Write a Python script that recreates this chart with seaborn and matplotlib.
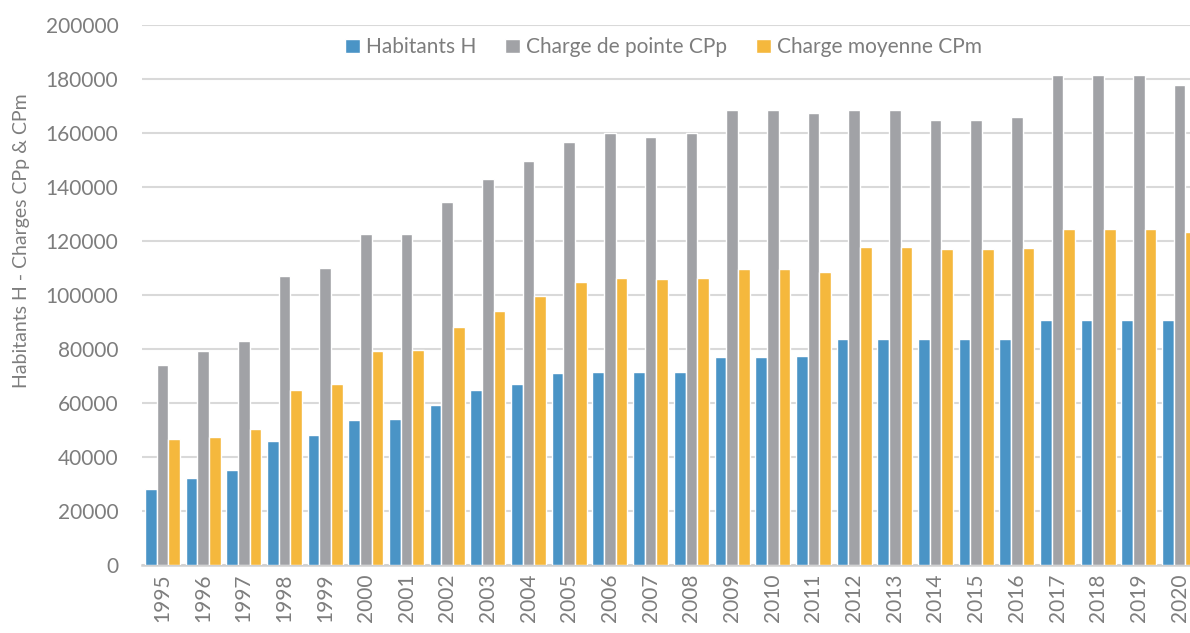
import numpy as np
import pandas as pd
import matplotlib
matplotlib.use('Agg')
import matplotlib.pyplot as plt
import seaborn as sns

years = [str(y) for y in range(1995, 2021)]
habitants = [28000, 32300, 35100, 45800, 48200, 53750, 54100, 59400, 64700, 67050,
             71100, 71500, 71500, 71500, 77150, 77150, 77500, 83700, 83700, 83700,
             83700, 83700, 90600, 90600, 90600, 90600]
charge_pointe = [74200, 79250, 82800, 107100, 110000, 122500, 122600, 134450, 142850, 149600,
                 156650, 160100, 158600, 160100, 168350, 168350, 167250, 168700, 168600, 164800,
                 165000, 166100, 181400, 181400, 181400, 177700]
charge_moyenne = [46600, 47300, 50200, 65000, 67000, 79100, 79500, 88000, 94150, 99700,
                  105000, 106250, 105750, 106250, 109800, 109800, 108500, 117700, 117600, 117000,
                  117100, 117300, 124600, 124600, 124600, 123500]
series_names = ['Habitants H', 'Charge de pointe CPp', 'Charge moyenne CPm']
colors = ['#4a94c6', '#a1a2a6', '#f5b83d']

df = pd.DataFrame({'annee': years * 3,
                   'valeur': habitants + charge_pointe + charge_moyenne,
                   'serie': np.repeat(series_names, len(years))})

sns.set_style('white')
plt.rcParams['font.family'] = ['Lato', 'DejaVu Sans']
grey_txt = '#7d7d7d'

fig = plt.figure(figsize=(11.9, 6.33), dpi=100)
ax = fig.add_axes([142 / 1190, 1 - 565 / 633, 1058 / 1190, 540 / 633])

sns.barplot(data=df, x='annee', y='valeur', hue='serie', palette=colors, saturation=1,
            width=0.86, edgecolor='white', linewidth=1, ax=ax, zorder=3)

ax.set_ylim(0, 200000)
ax.set_yticks(range(0, 200001, 20000))
ax.yaxis.grid(True, color='#d9d9d9', linewidth=1.5, zorder=0)
ax.set_axisbelow(True)
for s in ['top', 'right', 'left']:
    ax.spines[s].set_visible(False)
ax.spines['bottom'].set_color('#d0d0d0')
ax.spines['bottom'].set_linewidth(1.8)

ax.tick_params(axis='both', length=0, labelsize=15, labelcolor=grey_txt)
ax.tick_params(axis='x', rotation=90, pad=6)
ax.tick_params(axis='y', pad=17)
ax.set_xlabel('')
ax.set_ylabel('Habitants H - Charges CPp & CPm', fontsize=14, color=grey_txt)
ax.yaxis.set_label_coords(-0.106, 0.60)

ax.legend(loc='center', bbox_to_anchor=(0.493, 0.959), ncol=3, frameon=False,
          fontsize=15, labelcolor=grey_txt, handlelength=0.7, handleheight=0.7,
          handletextpad=0.3, columnspacing=1.4)

fig.savefig('out.png', dpi=100)
